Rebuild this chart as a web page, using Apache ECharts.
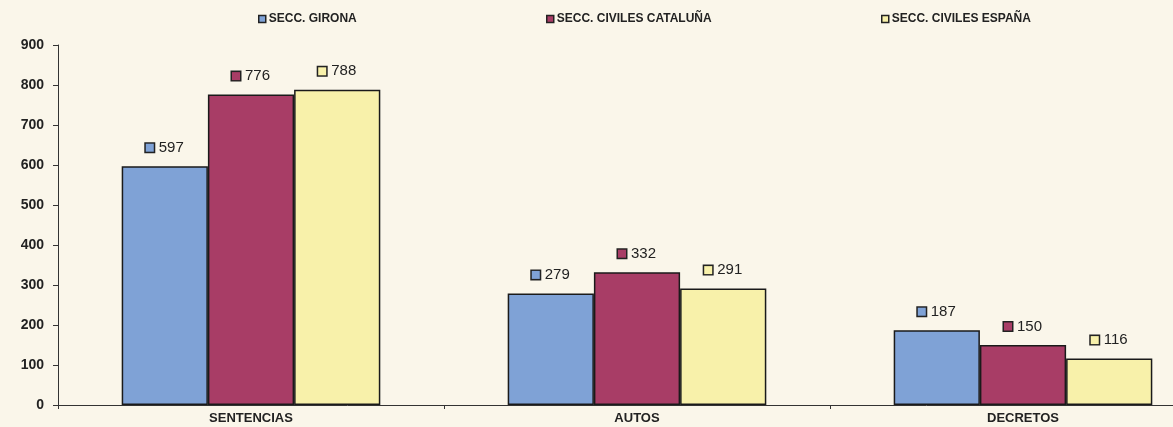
<!DOCTYPE html>
<html>
<head>
<meta charset="utf-8">
<script src="https://cdn.jsdelivr.net/npm/echarts@6/dist/echarts.min.js"></script>
<style>
  html, body { margin: 0; padding: 0; background: #faf6ea; overflow: hidden; }
  #chart { width: 1216px; height: 427px; }
</style>
</head>
<body>
<div id="chart"></div>
<script>
const categories = ["SENTENCIAS", "AUTOS", "DECRETOS"];
const seriesNames = ["SECC. GIRONA", "SECC. CIVILES CATALUÑA", "SECC. CIVILES ESPAÑA"];
const girona = [597, 279, 187];
const cataluna = [776, 332, 150];
const espana = [788, 291, 116];
const yTicks = [0, 100, 200, 300, 400, 500, 600, 700, 800, 900];

const colors = ["#7fa2d6", "#a83d66", "#f8f1aa"];
const legendX = [253, 541, 876];

// el grafico original esta recortado por la derecha
const myChart = echarts.init(document.getElementById("chart"));

// etiqueta: cuadradito + valor
function makeLabel(color) {
  return {
    show: true,
    position: "top",
    distance: 11,
    offset: [0, 0],
    formatter: "{i|}{v|{c}}",
    rich: {
      i: { width: 8, height: 8, backgroundColor: color, borderColor: "#222", borderWidth: 1.5 },
      v: { fontFamily: "Liberation Sans", fontSize: 15, color: "#222", padding: [0, 0, 0, 5] }
    }
  };
}

const data = [girona, cataluna, espana];
const series = seriesNames.map((name, i) => ({
  name: name,
  type: "bar",
  data: data[i],
  barGap: "0%",
  barCategoryGap: "33%",
  itemStyle: { color: colors[i], borderColor: "#1a1a1a", borderWidth: 1.5 },
  label: makeLabel(colors[i])
}));

const legends = seriesNames.map((name, i) => ({
  left: legendX[i],
  top: 8,
  itemWidth: 7,
  itemHeight: 7,
  itemGap: 4,
  icon: "rect",
  textStyle: { fontFamily: "Liberation Sans", fontWeight: "bold", fontSize: 12, color: "#222", padding: [0, 0, 0, -2] },
  data: [{ name: name, itemStyle: { color: colors[i], borderColor: "#222", borderWidth: 1.5 } }]
}));

const option = {
  backgroundColor: "#faf6ea",
  animation: false,
  legend: legends,
  grid: { left: 58, right: 0, top: 45, bottom: 22 },
  xAxis: {
    type: "category",
    data: categories,
    axisLine: { lineStyle: { color: "#333", width: 1 } },
    axisTick: { show: true, length: 4, lineStyle: { color: "#333" } },
    axisLabel: { fontFamily: "Liberation Sans", fontWeight: "bold", fontSize: 13, color: "#222", margin: 7 }
  },
  yAxis: {
    type: "value",
    min: yTicks[0],
    max: yTicks[yTicks.length - 1],
    interval: 100,
    axisLine: { show: true, lineStyle: { color: "#333", width: 1 } },
    axisTick: { show: true, length: 5, lineStyle: { color: "#333" } },
    splitLine: { show: false },
    axisLabel: { fontFamily: "Liberation Sans", fontWeight: "bold", fontSize: 14, color: "#222", margin: 14 }
  },
  series: series
};
myChart.setOption(option);
</script>
</body>
</html>
